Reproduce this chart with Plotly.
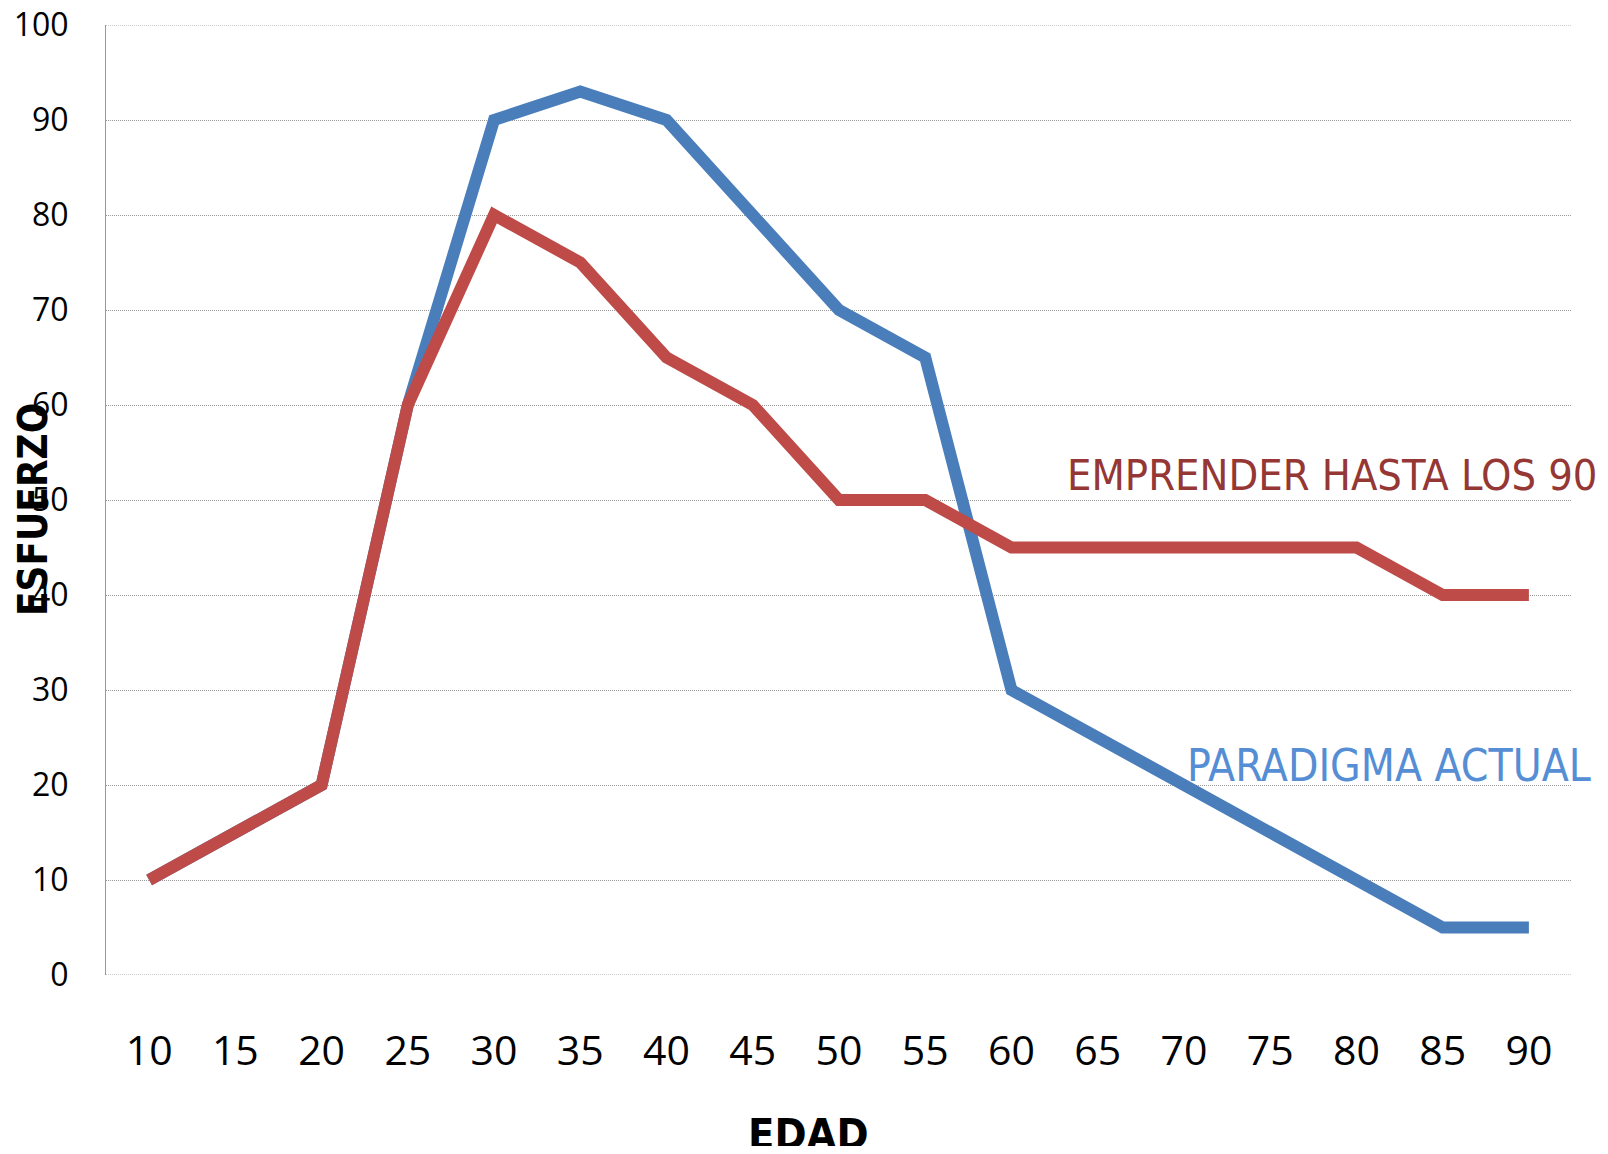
import plotly.graph_objects as go

edad = ["10", "15", "20", "25", "30", "35", "40", "45", "50", "55", "60", "65", "70", "75", "80", "85", "90"]
paradigma_actual = [10, 15, 20, 60, 90, 93, 90, 80, 70, 65, 30, 25, 20, 15, 10, 5, 5]
emprender_90 = [10, 15, 20, 60, 80, 75, 65, 60, 50, 50, 45, 45, 45, 45, 45, 40, 40]
y_ticks = [0, 10, 20, 30, 40, 50, 60, 70, 80, 90, 100]

NARROW = "DejaVu Sans Condensed, DejaVu Sans"

fig = go.Figure()
fig.add_trace(go.Scatter(x=edad, y=paradigma_actual, mode="lines", name="PARADIGMA ACTUAL",
                         line=dict(color="#4A7EBB", width=12), showlegend=False))
fig.add_trace(go.Scatter(x=edad, y=emprender_90, mode="lines", name="EMPRENDER HASTA LOS 90",
                         line=dict(color="#BE4B48", width=12), showlegend=False))

fig.add_annotation(text="EMPRENDER HASTA LOS 90", xref="paper", yref="y", x=(1065 - 106) / 1466, y=52.6,
                   xanchor="left", yanchor="middle", showarrow=False,
                   font=dict(family=NARROW, size=43, color="#953735"))
fig.add_annotation(text="PARADIGMA ACTUAL", xref="paper", yref="y", x=(1185 - 106) / 1466, y=22.1,
                   xanchor="left", yanchor="middle", showarrow=False,
                   font=dict(family=NARROW, size=44, color="#558ED5"))
fig.add_annotation(text="<b>EDAD</b>", xref="paper", yref="paper", x=(808 - 106) / 1466, y=-(1134 - 975) / 950,
                   xanchor="center", yanchor="middle", showarrow=False,
                   font=dict(family=NARROW, size=43, color="#000000"))
fig.add_annotation(text="<b>ESFUERZO</b>", xref="paper", yref="paper", x=-(106 - 33) / 1466, y=(975 - 510) / 950,
                   xanchor="center", yanchor="middle", textangle=-90, showarrow=False,
                   font=dict(family=NARROW, size=40, color="#000000"))

# top and bottom gridlines at the range edges
for yv in (0, 100):
    fig.add_shape(type="line", xref="paper", yref="y", x0=0, x1=1, y0=yv, y1=yv,
                  line=dict(color="#999999", width=1, dash="1px,1px"))

# page body has an 8px margin; figure is sized so the plot area lands where the reference has it
fig.update_layout(
    width=1592, height=1138,
    margin=dict(l=98, r=28, t=17, b=171, autoexpand=False),
    paper_bgcolor="white", plot_bgcolor="white",
)
fig.update_xaxes(type="category", range=[-0.5, 16.5], showgrid=False, showline=False, zeroline=False,
                 automargin=False, ticks="", ticklabeloverflow="allow",
                 tickfont=dict(family="Open Sans, Liberation Sans", size=41, color="#000000"),
                 ticklabelstandoff=48)
fig.update_yaxes(range=[0, 100], tickvals=y_ticks, showgrid=True, gridcolor="#999999", gridwidth=1,
                 griddash="1px,1px", showline=True, linecolor="#999999", linewidth=1, zeroline=False,
                 automargin=False, ticks="", ticklabeloverflow="allow",
                 tickfont=dict(family="Open Sans, Liberation Sans", size=32, color="#000000"),
                 ticklabelstandoff=30)

fig.write_html("out.html")
